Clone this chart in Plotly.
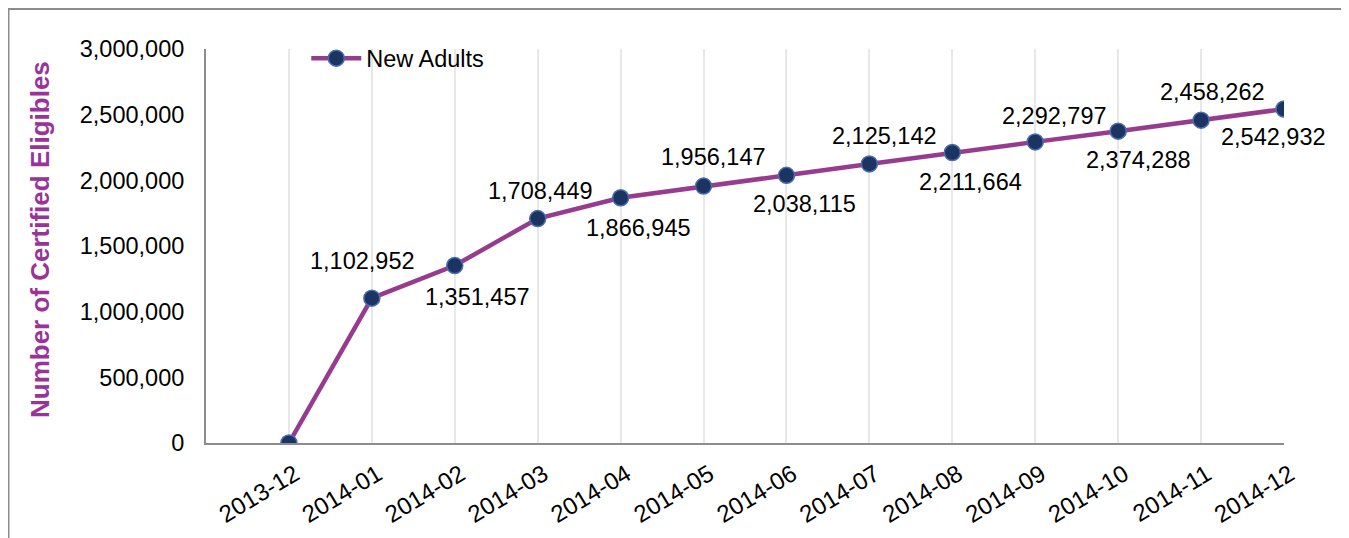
import plotly.graph_objects as go

categories = ["2013-12", "2014-01", "2014-02", "2014-03", "2014-04", "2014-05", "2014-06",
              "2014-07", "2014-08", "2014-09", "2014-10", "2014-11", "2014-12"]
new_adults = [0, 1102952, 1351457, 1708449, 1866945, 1956147, 2038115,
              2125142, 2211664, 2292797, 2374288, 2458262, 2542932]
y_ticks = [0, 500000, 1000000, 1500000, 2000000, 2500000, 3000000]

# label placement (pixel offsets from each point; style only)
label_dx = [0, -9, 23, 3, 18, 10, 18, 15, 18, 19, 20, 11, -11]
label_dy = [None, 37, -31, 28, -30, 29, -29, 28, -29, 26, -29, 28, -28]

FONT = "Liberation Sans, Arial, sans-serif"
PURPLE = "#973b8e"
NAVY = "#1b3461"

fig = go.Figure()
fig.add_trace(go.Scatter(
    x=categories, y=new_adults, mode="lines+markers", name="New Adults",
    line=dict(color=PURPLE, width=4.5),
    marker=dict(color=NAVY, size=16, line=dict(color="#4a6db0", width=1.5)),
))

annotations = []
for c, v, dx, dy in zip(categories, new_adults, label_dx, label_dy):
    if dy is None:
        continue
    annotations.append(dict(
        x=c, y=v, xref="x", yref="y", text=f"{v:,}", showarrow=False,
        yshift=dy, xshift=dx,
        font=dict(family=FONT, size=23.5, color="#000000"),
    ))

# page has an 8px body margin; figure coordinates = page coordinates - 8
OFF = 8
W, H = 1349 - OFF, 538 - OFF
L, T = 206 - OFF, 49 - OFF
R = W - (1284 - OFF)
B = H - (443 - OFF)
pw, ph = W - L - R, H - T - B
bx = (0.5 - L) / pw
by = 1 + (T - 1) / ph
bottom = -(B + 10) / ph
right = 1 + (R + 10) / pw

annotations.append(dict(
    x=(40 - OFF - L) / pw, y=1 - (240 - 49) / ph, xref="paper", yref="paper",
    text="<b>Number of Certified Eligibles</b>", textangle=-90, showarrow=False,
    xanchor="center", yanchor="middle",
    font=dict(family=FONT, size=26, color="#993399"),
))

fig.update_layout(
    width=W, height=H,
    margin=dict(l=L, r=R, t=T, b=B, autoexpand=False),
    paper_bgcolor="white", plot_bgcolor="white",
    font=dict(family=FONT, size=23.5, color="#000000"),
    showlegend=True,
    legend=dict(x=0.093, y=1.032, xanchor="left", yanchor="top",
                bgcolor="rgba(0,0,0,0)", font=dict(size=23.5, family=FONT),
                itemwidth=50, tracegroupgap=0),
    xaxis=dict(type="category", range=[-1, 12], showgrid=True, gridcolor="#e8e8e8",
               gridwidth=1.5, showline=True, linecolor="#8c8c8c", linewidth=2,
               tickangle=-31, ticks="", zeroline=False, automargin=False,
               ticklabelshift=6, ticklabelstandoff=6,
               tickfont=dict(family=FONT, size=24)),
    yaxis=dict(range=[0, 3000000], tickvals=y_ticks, tickformat=",", showgrid=False,
               showline=True, linecolor="#8c8c8c", linewidth=2, ticks="",
               zeroline=False, ticklabelstandoff=15, automargin=False,
               tickfont=dict(family=FONT, size=23.5)),
    annotations=annotations,
    shapes=[dict(type="path", xref="paper", yref="paper",
                 path=f"M {bx},{bottom} L {bx},{by} L {right},{by}",
                 line=dict(color="#8c8c8c", width=2))],
)

fig.write_html("out.html")
